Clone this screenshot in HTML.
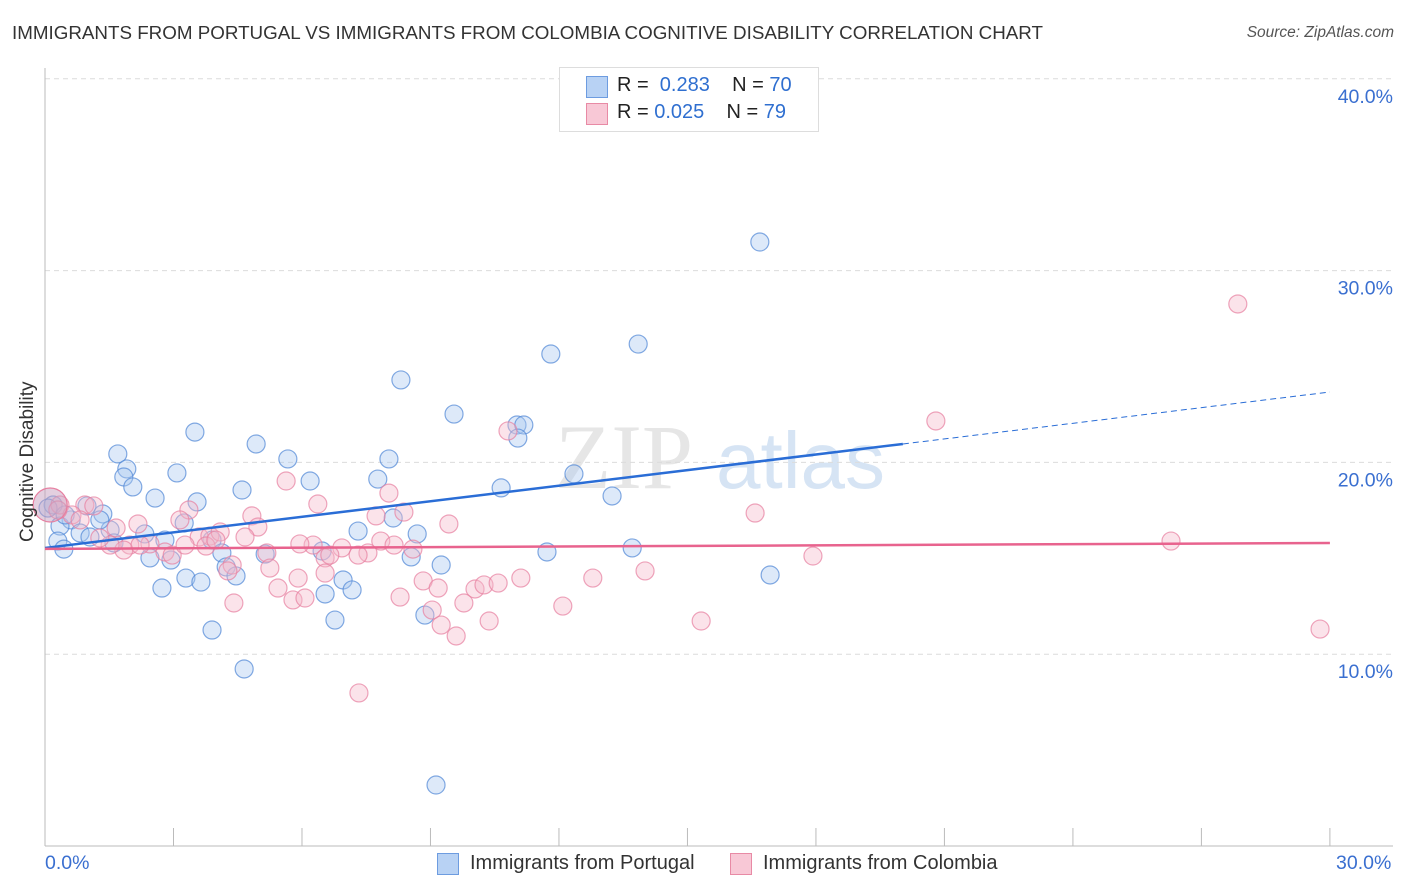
<!DOCTYPE html>
<html><head><meta charset="utf-8"><style>
body{margin:0;background:#fff;font-family:"Liberation Sans",sans-serif}
#wrap{position:relative;width:1406px;height:892px;overflow:hidden}
.t{position:absolute;white-space:nowrap}
</style></head><body>
<div id="wrap">
<div class="t" style="left:12px;top:22px;font-size:18.8px;color:#333">IMMIGRANTS FROM PORTUGAL VS IMMIGRANTS FROM COLOMBIA COGNITIVE DISABILITY CORRELATION CHART</div>
<div class="t" style="right:12px;top:24px;font-size:15.5px;color:#555;font-style:italic">Source: ZipAtlas.com</div>
<svg id="svg" width="1406" height="892" style="position:absolute;left:0;top:0"></svg>
</div>
<script>
const xTickVals=[0,3,6,9,12,15,18,21,24,27,30];
const yTickVals=[10,20,30,40];
const yTickLabels=["10.0%","20.0%","30.0%","40.0%"];
const blueX=[16.69,13.85,11.81,8.31,9.55,11.02,11.18,11.04,3.50,4.93,1.70,5.67,8.03,1.91,3.08,1.84,12.35,6.19,7.77,2.05,4.60,10.65,2.57,3.55,13.24,0.98,1.35,8.13,0.61,3.25,0.35,7.31,0.82,8.69,1.52,2.33,1.05,0.30,2.80,3.90,1.61,0.44,6.47,11.72,13.71,4.13,5.14,2.45,2.94,8.55,4.23,9.25,4.46,3.29,6.96,16.93,3.64,2.73,7.17,6.54,6.77,8.87,3.90,4.65,9.13,0.19,1.28,0.47,0.07];
const blueY=[31.49,26.17,25.65,24.30,22.52,21.95,21.95,21.27,21.58,20.96,20.44,20.18,20.18,19.66,19.45,19.24,19.40,19.03,19.13,18.72,18.56,18.67,18.14,17.94,18.25,17.73,17.31,17.10,17.00,16.84,16.68,16.42,16.32,16.27,16.48,16.27,16.11,15.90,15.95,15.95,15.80,15.48,15.38,15.33,15.54,15.28,15.22,15.02,14.91,15.07,14.55,14.65,14.08,13.97,13.87,14.13,13.76,13.45,13.35,13.14,11.78,12.04,11.26,9.23,3.18,17.78,17.00,17.26,17.62];
const pinkX=[27.85,20.80,10.81,5.63,8.03,6.37,16.58,3.36,8.38,7.73,4.83,3.15,9.43,2.17,0.93,1.14,0.35,0.63,0.82,1.66,4.97,3.60,3.85,4.67,4.09,1.98,1.84,2.80,6.26,6.93,7.84,8.15,8.59,7.54,5.18,6.54,17.93,26.29,4.37,5.25,5.91,6.54,4.27,4.41,5.44,5.79,6.07,8.29,8.83,10.04,10.25,10.58,11.11,12.79,14.01,9.78,12.09,9.04,9.25,10.37,9.60,15.32,29.77,7.33,0.30,1.52,2.45,2.97,3.27,3.76,3.99,2.22,7.31,5.95,6.65,9.18,1.28];
const pinkY=[28.26,22.16,21.64,19.03,18.40,17.83,17.36,17.52,17.41,17.21,17.21,17.00,16.79,16.79,17.78,17.73,17.78,17.26,17.00,16.58,16.63,16.11,16.16,16.11,16.37,15.69,15.43,15.33,15.69,15.54,15.90,15.69,15.48,15.28,15.28,15.02,15.12,15.90,14.65,14.49,13.97,14.23,14.34,12.67,13.45,12.83,12.93,12.98,13.82,13.40,13.61,13.71,13.97,13.97,14.34,12.67,12.51,12.30,11.52,11.73,10.95,11.73,11.31,7.98,17.52,15.69,15.75,15.17,15.69,15.64,15.95,15.69,15.17,15.75,15.17,13.45,16.06];
const blueTrend=[15.54,20.96,23.67];
const blueTrendX=[0,20.03,30];
const pinkTrend=[15.49,15.80];
const pinkTrendX=[0,30];

const NS="http://www.w3.org/2000/svg";
const svg=document.getElementById('svg');
const X=v=>45+v*42.83, Y=v=>846-v*19.18;
function mk(t,a){const e=document.createElementNS(NS,t);for(const k in a)e.setAttribute(k,a[k]);svg.appendChild(e);return e;}
let wm=mk('text',{x:555,y:488,'font-size':92,fill:'#e6e6e6','font-family':'Liberation Serif, serif'});wm.textContent='ZIP';


let wm2=mk('text',{x:716,y:488,'font-size':80,fill:'#d6e4f4','font-family':'Liberation Sans, sans-serif'});wm2.textContent='atlas';


yTickVals.forEach((v,i)=>{
 const g=mk('line',{x1:45,x2:1393,y1:Y(v),y2:Y(v),stroke:'#dcdcdc','stroke-dasharray':'5,4'});
 
 
 const t=mk('text',{x:1393,y:Y(v)+24,'text-anchor':'end','font-size':19.5,fill:'#3a6fd0'});t.textContent=yTickLabels[i];
 
 
});
let ax=mk('line',{x1:45,x2:45,y1:68,y2:846,stroke:'#bbb'});


let bx=mk('line',{x1:45,x2:1393,y1:846,y2:846,stroke:'#bbb'});


xTickVals.forEach(v=>{const l=mk('line',{x1:X(v),x2:X(v),y1:828,y2:846,stroke:'#bbb'});
 
 });
function dots(xs,ys,fill,stroke,name){xs.forEach((x,i)=>{const c=mk('circle',{cx:X(x),cy:Y(ys[i]),r:9,fill:fill,'fill-opacity':0.4,stroke:stroke,'stroke-opacity':0.7,'stroke-width':1.2});
 
 });}
dots(blueX,blueY,'#a9c8f0','#4f86d6','point-portugal');
dots(pinkX,pinkY,'#f6b9cb','#e77fa0','point-colombia');
let big=mk('circle',{cx:X(0.12),cy:Y(17.78),r:17,fill:'#c8a0c0','fill-opacity':0.5,stroke:'#e77fa0','stroke-width':1.2});


let bl=mk('line',{x1:X(blueTrendX[0]),y1:Y(blueTrend[0]),x2:X(blueTrendX[1]),y2:Y(blueTrend[1]),stroke:'#2a6dd6','stroke-width':2.5});


let bd=mk('line',{x1:X(blueTrendX[1]),y1:Y(blueTrend[1]),x2:X(blueTrendX[2]),y2:Y(blueTrend[2]),stroke:'#2a6dd6','stroke-width':1,'stroke-dasharray':'6,4'});


let pl=mk('line',{x1:X(pinkTrendX[0]),y1:Y(pinkTrend[0]),x2:X(pinkTrendX[1]),y2:Y(pinkTrend[1]),stroke:'#e8638e','stroke-width':2.5});


</script>
<div class="t" style="left:17px;top:542px;font-size:19px;color:#333;transform:rotate(-90deg);transform-origin:0 0">Cognitive Disability</div>
<div class="t" style="left:45px;top:852px;font-size:19.5px;color:#3a6fd0">0.0%</div>
<div class="t" style="left:1336px;top:852px;font-size:19.5px;color:#3a6fd0">30.0%</div>
<div style="position:absolute;left:559px;top:67px;width:258px;height:63px;border:1px solid #ddd;background:#fff">
 <div style="position:absolute;left:26px;top:8px;width:20px;height:20px;background:#b8d2f4;border:1px solid #6d9ce0"></div>
 <div class="t" style="left:57px;top:6px;font-size:20px;color:#222">R = <span style="color:#2f6fd0">&nbsp;0.283</span>&nbsp;&nbsp;&nbsp; N = <span style="color:#2f6fd0">70</span></div>
 <div style="position:absolute;left:26px;top:35px;width:20px;height:20px;background:#f8c8d6;border:1px solid #e88aa5"></div>
 <div class="t" style="left:57px;top:33px;font-size:20px;color:#222">R = <span style="color:#2f6fd0">0.025</span>&nbsp;&nbsp;&nbsp; N = <span style="color:#2f6fd0">79</span></div>
</div>
<div style="position:absolute;left:437px;top:853px;width:20px;height:20px;background:#b8d2f4;border:1px solid #6d9ce0"></div>
<div class="t" style="left:470px;top:852px;font-size:20px;color:#333">Immigrants from Portugal</div>
<div style="position:absolute;left:730px;top:853px;width:20px;height:20px;background:#f8c8d6;border:1px solid #e88aa5"></div>
<div class="t" style="left:763px;top:852px;font-size:20px;color:#333">Immigrants from Colombia</div>
</body></html>
